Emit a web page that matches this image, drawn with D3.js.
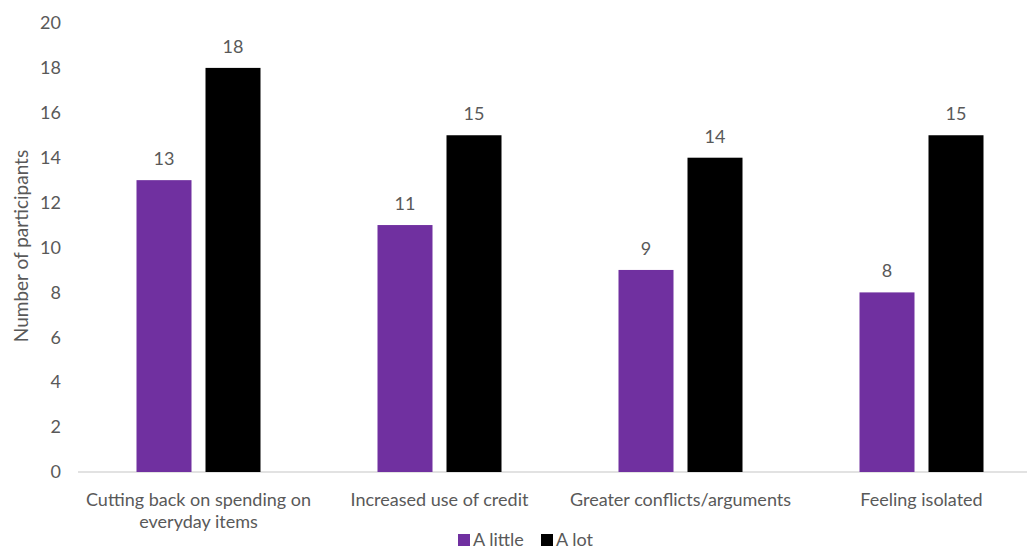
<!DOCTYPE html>
<meta charset="utf-8">
<style>
body { margin: 0; background: #fff; }
svg text { font-family: Lato, "Open Sans", sans-serif; fill: #595959; }
.axis path { display: none; }
.axis line { display: none; }
.axis text { font-size: 18px; font-family: Lato, sans-serif; fill: #595959; }
</style>
<svg width="1027" height="549"></svg>
<script src="https://cdn.jsdelivr.net/npm/d3@7"></script>
<script>
var categories = ["Cutting back on spending on|everyday items", "Increased use of credit",
                  "Greater conflicts/arguments", "Feeling isolated"];
var seriesNames = ["A little", "A lot"];
var aLittle = [13, 11, 9, 8];
var aLot = [18, 15, 14, 15];
var colors = ["#7030A0", "#000000"];
var yTicks = [0, 2, 4, 6, 8, 10, 12, 14, 16, 18, 20];

var svg = d3.select("svg");
var plotLeft = 78, plotRight = 1042, plotTop = 23, plotBottom = 472;

var x = d3.scaleBand().domain(categories).range([plotLeft, plotRight]);
var y = d3.scaleLinear().domain([0, 20]).range([plotBottom, plotTop]);

var barW = 55, barGap = 14;
var groupW = barW * 2 + barGap;

// y axis labels
svg.append("g")
    .attr("class", "axis")
    .attr("transform", "translate(" + (plotLeft - 5) + ",0)")
    .call(d3.axisLeft(y).tickValues(yTicks).tickSize(0).tickPadding(12))
    .attr("font-family", null);

// baseline
svg.append("line")
    .attr("x1", plotLeft).attr("x2", plotRight)
    .attr("y1", y(0)).attr("y2", y(0))
    .attr("stroke", "#d9d9d9").attr("stroke-width", 1.5);

var series = [aLittle, aLot];
series.forEach(function(vals, s) {
  var g = svg.append("g");
  g.selectAll("rect")
    .data(vals)
    .enter().append("rect")
      .attr("x", function(d, i) {
        return x(categories[i]) + (x.bandwidth() - groupW) / 2 + s * (barW + barGap);
      })
      .attr("y", function(d) { return y(d); })
      .attr("width", barW)
      .attr("height", function(d) { return y(0) - y(d); })
      .attr("fill", colors[s]);
  g.selectAll("text")
    .data(vals)
    .enter().append("text")
      .attr("x", function(d, i) {
        return x(categories[i]) + (x.bandwidth() - groupW) / 2 + s * (barW + barGap) + barW / 2;
      })
      .attr("y", function(d) { return y(d) - 15; })
      .attr("text-anchor", "middle")
      .style("font-size", "18px")
      .text(function(d) { return d; });
});

// category labels
var cat = svg.append("g");
categories.forEach(function(c) {
  var t = cat.append("text")
    .attr("x", x(c) + x.bandwidth() / 2)
    .attr("y", 506)
    .attr("text-anchor", "middle")
    .style("font-size", "18px");
  c.split("|").forEach(function(line, k) {
    t.append("tspan")
      .attr("x", x(c) + x.bandwidth() / 2)
      .attr("dy", k ? 22 : 0)
      .text(line);
  });
});

// y title
svg.append("text")
  .attr("transform", "translate(28,246) rotate(-90)")
  .attr("text-anchor", "middle")
  .style("font-size", "19px")
  .text("Number of participants");

// legend
var legendX = [458, 541];
seriesNames.forEach(function(n, i) {
  svg.append("rect")
    .attr("x", legendX[i]).attr("y", 534)
    .attr("width", 12).attr("height", 12)
    .attr("fill", colors[i]);
  svg.append("text")
    .attr("x", legendX[i] + 15).attr("y", 546)
    .style("font-size", "18px")
    .text(n);
});
</script>
